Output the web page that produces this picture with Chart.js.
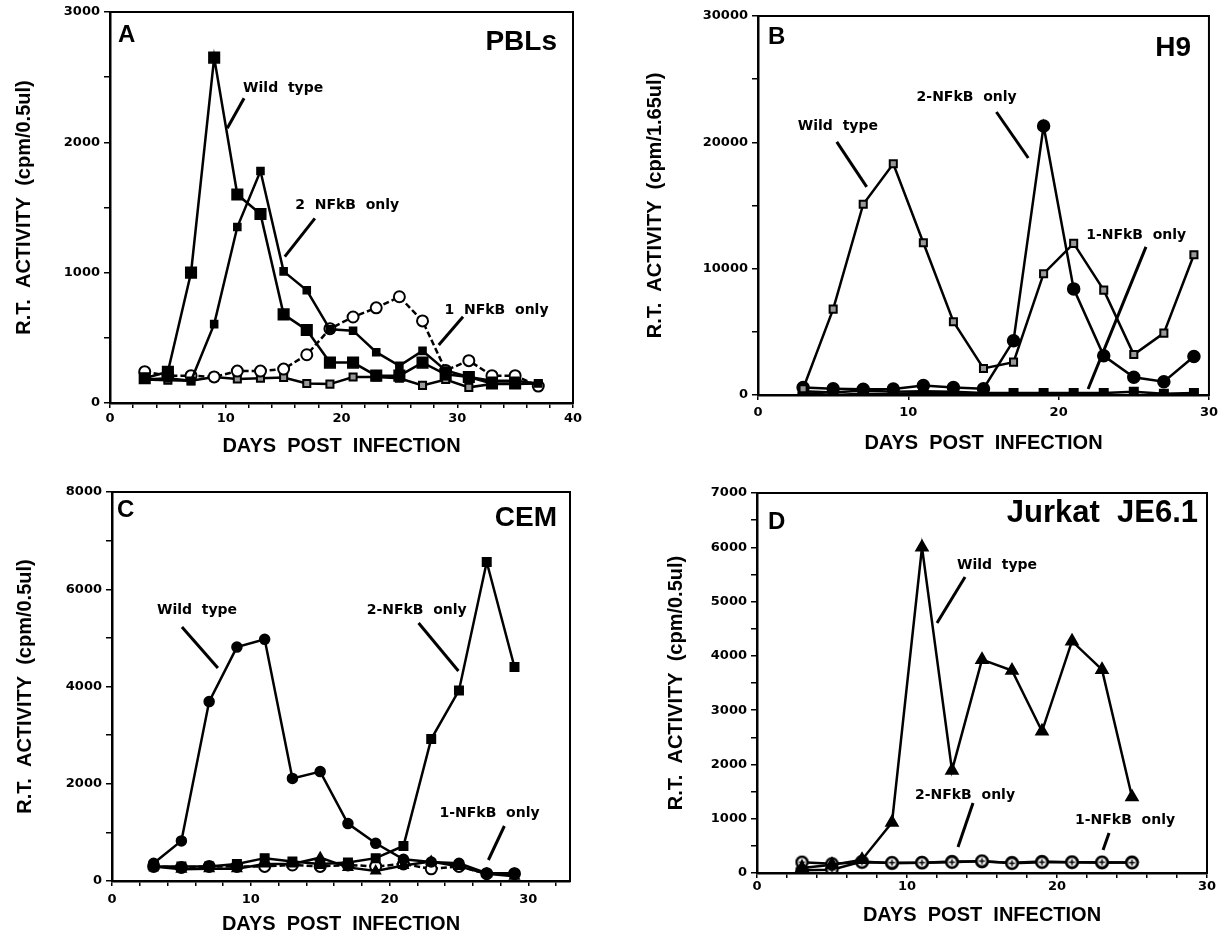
<!DOCTYPE html>
<html>
<head>
<meta charset="utf-8">
<script src="https://cdn.jsdelivr.net/npm/chart.js@4.4.1/dist/chart.umd.min.js"></script>
<style>
html, body { margin: 0; padding: 0; background: #fff; }
#wrap { position: relative; width: 1223px; height: 934px; overflow: hidden; }
canvas { position: absolute; }
</style>
</head>
<body>
<div id="wrap">
  <canvas id="pA" width="611" height="467" style="left:0;top:0"></canvas>
  <canvas id="pB" width="612" height="467" style="left:611px;top:0"></canvas>
  <canvas id="pC" width="611" height="467" style="left:0;top:467px"></canvas>
  <canvas id="pD" width="612" height="467" style="left:611px;top:467px"></canvas>
</div>
<script>
// A - PBLs
const daysA = [3, 5, 7, 9, 11, 13, 15, 17, 19, 21, 23, 25, 27, 29, 31, 33, 35, 37];
const wildTypeA = [190, 240, 1000, 2650, 1600, 1450, 680, 560, 310, 310, 210, 210, 310, 220, 200, 150, 150];
const twoNfkbA = [180, 190, 170, 605, 1350, 1780, 1010, 865, 565, 555, 390, 285, 400, 250, 200, 170, 170, 150];
const oneNfkbA = [240, 210, 210, 200, 245, 245, 260, 370, 570, 660, 730, 815, 630, 250, 325, 210, 210, 130];
const otherA = [180, 175, 170, 200, 185, 190, 195, 150, 145, 200, 200, 190, 135, 180, 120, 145, 145, 150];

// B - H9
const daysB = [3, 5, 7, 9, 11, 13, 15, 17, 19, 21, 23, 25, 27, 29];
const wildTypeB = [500, 6800, 15100, 18300, 12050, 5800, 2100, 2600, 9600, 12000, 8300, 3200, 4900, 11100];
const twoNfkbB = [600, 500, 450, 480, 750, 600, 500, 4300, 21300, 8400, 3100, 1400, 1050, 3050];
const oneNfkbB = [300, 200, 350, 250, 300, 250, 150, 150, 150, 150, 150, 250, 100, 150];
const otherB = [150, 0, 100, 50, 200, 150, 0];

// C - CEM
const daysC = [3, 5, 7, 9, 11, 13, 15, 17, 19, 21, 23, 25, 27, 29];
const wildTypeC = [365, 825, 3690, 4810, 4970, 2110, 2250, 1180, 775, 445, 390, 365, 160, 160];
const twoNfkbC = [300, 300, 300, 350, 470, 400, 350, 380, 470, 720, 2920, 3920, 6560, 4400];
const oneNfkbC = [300, 240, 250, 250, 350, 350, 480, 280, 205, 320, 400, 300, 150, 100];
const otherC = [300, 280, 300, 300, 300, 330, 300, 330, 300, 350, 250, 300, 150, 150];

// D - Jurkat JE6.1
const daysD = [3, 5, 7, 9, 11, 13, 15, 17, 19, 21, 23, 25];
const wildTypeD = [90, 150, 245, 930, 6000, 1890, 3930, 3730, 2610, 4270, 3745, 1400];
const twoNfkbD = [200, 170, 200, 190, 190, 200, 220, 180, 200, 200, 200, 190];
const oneNfkbD = [50, 60, 210, 180, 190, 210, 210, 190, 210, 200, 190, 200];

const SANS = '"Liberation Sans", Arial, Helvetica, sans-serif';
const WIDE = '"DejaVu Sans", Verdana, sans-serif';

// open circle with a small cross inside (panel D)
function circlePlus(r) {
    const c = document.createElement('canvas');
    const s = 2 * r + 4;
    c.width = c.height = s;
    const g = c.getContext('2d');
    g.fillStyle = '#fff';
    g.strokeStyle = '#000';
    g.lineWidth = 2.5;
    g.beginPath();
    g.arc(s / 2, s / 2, r, 0, Math.PI * 2);
    g.fill();
    g.stroke();
    g.lineWidth = 1.5;
    g.beginPath();
    g.moveTo(s / 2 - r * 0.55, s / 2);
    g.lineTo(s / 2 + r * 0.55, s / 2);
    g.moveTo(s / 2, s / 2 - r * 0.55);
    g.lineTo(s / 2, s / 2 + r * 0.55);
    g.stroke();
    return c;
}

const bigSquare = { pointStyle: 'rect', pointRadius: 7.5, pointBackgroundColor: '#000' };
const smallSquare = { pointStyle: 'rect', pointRadius: 5, pointBackgroundColor: '#000' };
const graySquare = { pointStyle: 'rect', pointRadius: 5, pointBackgroundColor: '#999', pointBorderWidth: 2 };
const openCircle = { pointStyle: 'circle', pointRadius: 5.5, pointBackgroundColor: '#fff', pointBorderWidth: 2 };
const dot = { pointStyle: 'circle', pointRadius: 6, pointBackgroundColor: '#000' };
const smallDot = { pointStyle: 'circle', pointRadius: 5, pointBackgroundColor: '#000' };
const triangle = { pointStyle: 'triangle', pointRadius: 7, pointBackgroundColor: '#000' };
const smallTriangle = { pointStyle: 'triangle', pointRadius: 5.5, pointBackgroundColor: '#000' };
const plusCircle = { pointStyle: circlePlus(5.5), pointRadius: 6 };

function series(label, days, vals, style) {
    return Object.assign({
        label: label,
        data: vals.map((v, i) => ({ x: days[i], y: v })),
        borderColor: '#000',
        borderWidth: 2.5,
        pointBorderColor: '#000',
        pointBorderWidth: 1.5,
        tension: 0
    }, style);
}

// frame, panel letter, cell name and the pointer notes
const panelText = {
    id: 'panelText',
    afterDraw(chart, args, o) {
        const { ctx, chartArea: a } = chart;
        const x = chart.scales.x, y = chart.scales.y;
        ctx.save();
        ctx.strokeStyle = '#000';
        ctx.fillStyle = '#000';
        ctx.lineWidth = 2;
        ctx.strokeRect(a.left, a.top, a.right - a.left, a.bottom - a.top);
        ctx.textBaseline = 'middle';
        ctx.textAlign = 'left';
        ctx.font = 'bold 24px ' + SANS;
        ctx.fillText(o.letter, a.left + o.letterAt[0], a.top + o.letterAt[1]);
        ctx.textAlign = 'right';
        ctx.font = 'bold ' + o.nameSize + 'px ' + SANS;
        ctx.fillText(o.name, a.right - o.nameAt[0], a.top + o.nameAt[1]);
        ctx.textAlign = 'left';
        ctx.font = 'bold 14px ' + WIDE;
        ctx.lineWidth = 3;
        o.notes.forEach(n => {
            ctx.fillText(n.text, x.getPixelForValue(n.at[0]), y.getPixelForValue(n.at[1]));
            ctx.beginPath();
            ctx.moveTo(x.getPixelForValue(n.line[0]), y.getPixelForValue(n.line[1]));
            ctx.lineTo(x.getPixelForValue(n.line[2]), y.getPixelForValue(n.line[3]));
            ctx.stroke();
        });
        ctx.restore();
    }
};

const tickFont = { family: WIDE, size: 13, weight: 'bold' };
const titleFont = { family: SANS, size: 20, weight: 'bold', lineHeight: 1 };

function xAxis(p) {
    return {
        type: 'linear', min: 0, max: p.max,
        ticks: {
            stepSize: p.step, includeBounds: false, autoSkip: false, maxRotation: 0,
            padding: p.tickPad, color: '#000', font: tickFont,
            callback: v => (v % 10 === 0 ? String(v) : '')
        },
        grid: { drawOnChartArea: false, drawTicks: true, tickLength: 5, color: '#000', lineWidth: 1.5 },
        border: { display: true, color: '#000', width: 2.5 },
        title: { display: true, text: 'DAYS  POST  INFECTION', color: '#000', font: titleFont, padding: { top: 0, bottom: p.titlePad } },
        afterFit: s => { s.height = p.height; }
    };
}

function yAxis(p) {
    return {
        type: 'linear', min: 0, max: p.max,
        ticks: {
            stepSize: p.step, autoSkip: false, padding: 4, color: '#000', font: tickFont,
            callback: v => (v % p.labelStep === 0 ? String(v) : '')
        },
        grid: { drawOnChartArea: false, drawTicks: true, tickLength: 6, color: '#000', lineWidth: 1.5 },
        border: { display: true, color: '#000', width: 2.5 },
        title: { display: true, text: 'R.T.  ACTIVITY  (' + p.unit + ')', color: '#000', font: titleFont, padding: { top: p.titlePad, bottom: 0 } },
        afterFit: s => { s.width = p.width; }
    };
}

function panel(id, datasets, pad, xs, ys, text) {
    return new Chart(document.getElementById(id), {
        type: 'line',
        data: { datasets: datasets },
        options: {
            responsive: false,
            animation: false,
            events: [],
            layout: { padding: pad },
            plugins: { legend: { display: false }, tooltip: { enabled: false }, panelText: text },
            scales: { x: xAxis(xs), y: yAxis(ys) }
        },
        plugins: [panelText]
    });
}

panel('pA', [
    series('Wild type', daysA, wildTypeA, bigSquare),
    series('2 NFkB only', daysA, twoNfkbA, smallSquare),
    series('1 NFkB only', daysA, oneNfkbA, Object.assign({ borderDash: [6, 3] }, openCircle)),
    series('', daysA, otherA, graySquare)
], { left: 0, top: 12, right: 38, bottom: 0 },
{ max: 40, step: 2, tickPad: 3, titlePad: 11, height: 64 },
{ max: 3000, step: 500, labelStep: 1000, unit: 'cpm/0.5ul', titlePad: 14, width: 110 },
{
    letter: 'A', letterAt: [8, 23], name: 'PBLs', nameSize: 28, nameAt: [16, 30],
    notes: [
        { text: 'Wild  type', at: [11.5, 2417], line: [11.58, 2338, 10.13, 2108] },
        { text: '2  NFkB  only', at: [16.0, 1519], line: [17.7, 1417, 15.1, 1123] },
        { text: '1  NFkB  only', at: [28.9, 714], line: [30.5, 662, 28.4, 445] }
    ]
});

panel('pB', [
    series('Wild type', daysB, wildTypeB, graySquare),
    series('2-NFkB only', daysB, twoNfkbB, dot),
    series('1-NFkB only', daysB, oneNfkbB, Object.assign({}, smallSquare, { pointRadius: 6 })),
    series('', daysB, otherB, smallDot)
], { left: 0, top: 16, right: 12, bottom: 0 },
{ max: 30, step: 10, tickPad: 5, titlePad: 14, height: 72 },
{ max: 30000, step: 5000, labelStep: 10000, unit: 'cpm/1.65ul', titlePad: 34, width: 147 },
{
    letter: 'B', letterAt: [10, 21], name: 'H9', nameSize: 28, nameAt: [18, 32],
    notes: [
        { text: 'Wild  type', at: [2.65, 21290], line: [5.24, 20030, 7.23, 16470] },
        { text: '2-NFkB  only', at: [10.55, 23590], line: [15.86, 22400, 17.98, 18760] },
        { text: '1-NFkB  only', at: [21.83, 12670], line: [25.81, 11720, 21.96, 475] }
    ]
});

panel('pC', [
    series('Wild type', daysC, wildTypeC, smallDot),
    series('2-NFkB only', daysC, twoNfkbC, Object.assign({}, smallSquare, { pointRadius: 6 })),
    series('1-NFkB only', daysC, oneNfkbC, smallTriangle),
    series('', daysC, otherC, Object.assign({ borderDash: [6, 3] }, openCircle))
], { left: 0, top: 25, right: 41, bottom: 0 },
{ max: 33, step: 2, tickPad: 6, titlePad: 0, height: 53 },
{ max: 8000, step: 1000, labelStep: 2000, unit: 'cpm/0.5ul', titlePad: 15, width: 112 },
{
    letter: 'C', letterAt: [5, 18], name: 'CEM', nameSize: 28, nameAt: [13, 26],
    notes: [
        { text: 'Wild  type', at: [3.24, 5573], line: [5.04, 5224, 7.63, 4380] },
        { text: '2-NFkB  only', at: [18.35, 5573], line: [22.09, 5306, 24.96, 4319] },
        { text: '1-NFkB  only', at: [23.6, 1398], line: [28.27, 1131, 27.12, 432] }
    ]
});

panel('pD', [
    series('Wild type', daysD, wildTypeD, triangle),
    series('2-NFkB only', daysD, twoNfkbD, plusCircle),
    series('1-NFkB only', daysD, oneNfkbD, plusCircle)
], { left: 0, top: 26, right: 16, bottom: 0 },
{ max: 30, step: 2, tickPad: 1, titlePad: 9, height: 61 },
{ max: 7000, step: 500, labelStep: 1000, unit: 'cpm/0.5ul', titlePad: 55, width: 146 },
{
    letter: 'D', letterAt: [11, 29], name: 'Jurkat  JE6.1', nameSize: 31, nameAt: [9, 20],
    notes: [
        { text: 'Wild  type', at: [13.33, 5674], line: [13.87, 5453, 12.0, 4605] },
        { text: '2-NFkB  only', at: [10.53, 1437], line: [14.4, 1289, 13.4, 479] },
        { text: '1-NFkB  only', at: [21.2, 976], line: [23.47, 737, 23.07, 424] }
    ]
});
</script>
</body>
</html>
